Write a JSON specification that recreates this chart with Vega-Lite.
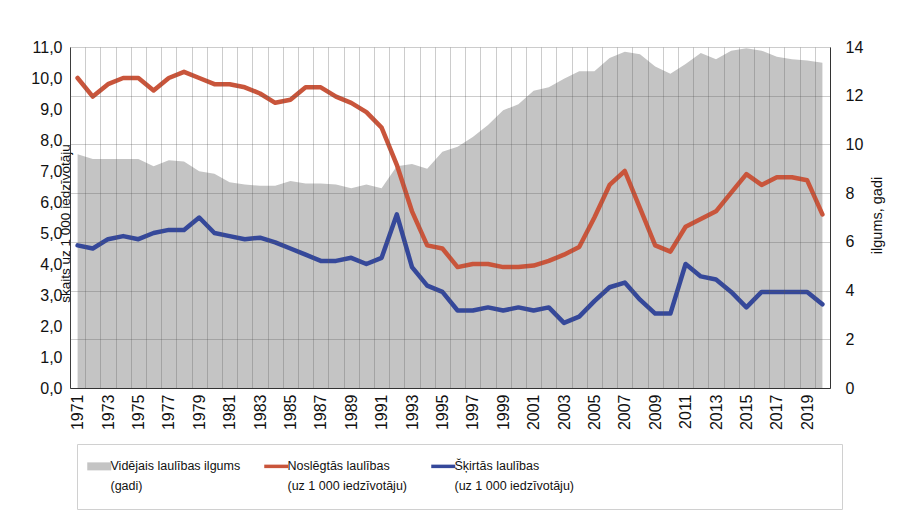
{
  "$schema": "https://vega.github.io/schema/vega-lite/v6.json",
  "width": 760,
  "height": 341,
  "autosize": "none",
  "padding": {"left": 70, "top": 47, "right": 70, "bottom": 123},
  "background": "white",
  "config": {
    "view": {"stroke": null},
    "font": "Liberation Sans",
    "axis": {"labelColor": "#111", "titleColor": "#111", "labelFont": "Liberation Sans", "titleFont": "Liberation Sans"},
    "legend": {
      "orient": "none",
      "legendX": 7,
      "legendY": 397,
      "direction": "horizontal",
      "columns": 3,
      "symbolType": "stroke",
      "symbolSize": 576,
      "symbolStrokeWidth": 4,
      "labelFont": "Liberation Sans",
      "labelFontSize": 12.5,
      "labelColor": "#111",
      "labelLimit": 300,
      "labelBaseline": "top",
      "labelOffset": 5,
      "columnPadding": 16,
      "padding": 16,
      "strokeColor": "#d0d0d0",
      "titleOrient": "right",
      "titlePadding": 252,
      "titleFontSize": 11
    }
  },
  "data": {
    "values": [
      {"gads": 1971, "ilgums": 9.6, "Noslēgtās laulības": 10.0, "Šķirtās laulības": 4.6},
      {"gads": 1972, "ilgums": 9.4, "Noslēgtās laulības": 9.4, "Šķirtās laulības": 4.5},
      {"gads": 1973, "ilgums": 9.4, "Noslēgtās laulības": 9.8, "Šķirtās laulības": 4.8},
      {"gads": 1974, "ilgums": 9.4, "Noslēgtās laulības": 10.0, "Šķirtās laulības": 4.9},
      {"gads": 1975, "ilgums": 9.4, "Noslēgtās laulības": 10.0, "Šķirtās laulības": 4.8},
      {"gads": 1976, "ilgums": 9.1, "Noslēgtās laulības": 9.6, "Šķirtās laulības": 5.0},
      {"gads": 1977, "ilgums": 9.35, "Noslēgtās laulības": 10.0, "Šķirtās laulības": 5.1},
      {"gads": 1978, "ilgums": 9.3, "Noslēgtās laulības": 10.2, "Šķirtās laulības": 5.1},
      {"gads": 1979, "ilgums": 8.9, "Noslēgtās laulības": 10.0, "Šķirtās laulības": 5.5},
      {"gads": 1980, "ilgums": 8.8, "Noslēgtās laulības": 9.8, "Šķirtās laulības": 5.0},
      {"gads": 1981, "ilgums": 8.45, "Noslēgtās laulības": 9.8, "Šķirtās laulības": 4.9},
      {"gads": 1982, "ilgums": 8.35, "Noslēgtās laulības": 9.7, "Šķirtās laulības": 4.8},
      {"gads": 1983, "ilgums": 8.3, "Noslēgtās laulības": 9.5, "Šķirtās laulības": 4.85},
      {"gads": 1984, "ilgums": 8.3, "Noslēgtās laulības": 9.2, "Šķirtās laulības": 4.7},
      {"gads": 1985, "ilgums": 8.5, "Noslēgtās laulības": 9.3, "Šķirtās laulības": 4.5},
      {"gads": 1986, "ilgums": 8.4, "Noslēgtās laulības": 9.7, "Šķirtās laulības": 4.3},
      {"gads": 1987, "ilgums": 8.4, "Noslēgtās laulības": 9.7, "Šķirtās laulības": 4.1},
      {"gads": 1988, "ilgums": 8.35, "Noslēgtās laulības": 9.4, "Šķirtās laulības": 4.1},
      {"gads": 1989, "ilgums": 8.2, "Noslēgtās laulības": 9.2, "Šķirtās laulības": 4.2},
      {"gads": 1990, "ilgums": 8.35, "Noslēgtās laulības": 8.9, "Šķirtās laulības": 4.0},
      {"gads": 1991, "ilgums": 8.2, "Noslēgtās laulības": 8.4, "Šķirtās laulības": 4.2},
      {"gads": 1992, "ilgums": 9.1, "Noslēgtās laulības": 7.2, "Šķirtās laulības": 5.6},
      {"gads": 1993, "ilgums": 9.2, "Noslēgtās laulības": 5.7, "Šķirtās laulības": 3.9},
      {"gads": 1994, "ilgums": 9.0, "Noslēgtās laulības": 4.6, "Šķirtās laulības": 3.3},
      {"gads": 1995, "ilgums": 9.7, "Noslēgtās laulības": 4.5, "Šķirtās laulības": 3.1},
      {"gads": 1996, "ilgums": 9.9, "Noslēgtās laulības": 3.9, "Šķirtās laulības": 2.5},
      {"gads": 1997, "ilgums": 10.3, "Noslēgtās laulības": 4.0, "Šķirtās laulības": 2.5},
      {"gads": 1998, "ilgums": 10.8, "Noslēgtās laulības": 4.0, "Šķirtās laulības": 2.6},
      {"gads": 1999, "ilgums": 11.4, "Noslēgtās laulības": 3.9, "Šķirtās laulības": 2.5},
      {"gads": 2000, "ilgums": 11.65, "Noslēgtās laulības": 3.9, "Šķirtās laulības": 2.6},
      {"gads": 2001, "ilgums": 12.2, "Noslēgtās laulības": 3.95, "Šķirtās laulības": 2.5},
      {"gads": 2002, "ilgums": 12.35, "Noslēgtās laulības": 4.1, "Šķirtās laulības": 2.6},
      {"gads": 2003, "ilgums": 12.7, "Noslēgtās laulības": 4.3, "Šķirtās laulības": 2.1},
      {"gads": 2004, "ilgums": 13.0, "Noslēgtās laulības": 4.55, "Šķirtās laulības": 2.3},
      {"gads": 2005, "ilgums": 13.0, "Noslēgtās laulības": 5.5, "Šķirtās laulības": 2.8},
      {"gads": 2006, "ilgums": 13.55, "Noslēgtās laulības": 6.55, "Šķirtās laulības": 3.25},
      {"gads": 2007, "ilgums": 13.8, "Noslēgtās laulības": 7.0, "Šķirtās laulības": 3.4},
      {"gads": 2008, "ilgums": 13.7, "Noslēgtās laulības": 5.8, "Šķirtās laulības": 2.85},
      {"gads": 2009, "ilgums": 13.2, "Noslēgtās laulības": 4.6, "Šķirtās laulības": 2.4},
      {"gads": 2010, "ilgums": 12.9, "Noslēgtās laulības": 4.4, "Šķirtās laulības": 2.4},
      {"gads": 2011, "ilgums": 13.3, "Noslēgtās laulības": 5.2, "Šķirtās laulības": 4.0},
      {"gads": 2012, "ilgums": 13.75, "Noslēgtās laulības": 5.45, "Šķirtās laulības": 3.6},
      {"gads": 2013, "ilgums": 13.5, "Noslēgtās laulības": 5.7, "Šķirtās laulības": 3.5},
      {"gads": 2014, "ilgums": 13.85, "Noslēgtās laulības": 6.3, "Šķirtās laulības": 3.1},
      {"gads": 2015, "ilgums": 13.95, "Noslēgtās laulības": 6.9, "Šķirtās laulības": 2.6},
      {"gads": 2016, "ilgums": 13.85, "Noslēgtās laulības": 6.55, "Šķirtās laulības": 3.1},
      {"gads": 2017, "ilgums": 13.6, "Noslēgtās laulības": 6.8, "Šķirtās laulības": 3.1},
      {"gads": 2018, "ilgums": 13.5, "Noslēgtās laulības": 6.8, "Šķirtās laulības": 3.1},
      {"gads": 2019, "ilgums": 13.45, "Noslēgtās laulības": 6.7, "Šķirtās laulības": 3.1},
      {"gads": 2020, "ilgums": 13.35, "Noslēgtās laulības": 5.6, "Šķirtās laulības": 2.7}
    ]
  },
  "encoding": {
    "x": {
      "field": "gads",
      "type": "ordinal",
      "bandPosition": 0.5,
      "scale": {"type": "band", "paddingInner": 0, "paddingOuter": 0},
      "axis": {
        "title": null,
        "tickBand": "extent",
        "grid": true,
        "gridColor": "#555",
        "gridOpacity": 0.3,
        "ticks": false,
        "labelAngle": 270,
        "labelFontSize": 16,
        "labelPadding": 6,
        "labelOverlap": false,
        "labelExpr": "datum.value % 2 == 1 ? datum.label : ''",
        "domainColor": "#333",
        "zindex": 1
      }
    }
  },
  "layer": [
    {
      "mark": {"type": "area", "opacity": 1},
      "encoding": {
        "y": {
          "field": "ilgums",
          "type": "quantitative",
          "scale": {"domain": [0, 14], "nice": false},
          "axis": {
            "orient": "right",
            "values": [0, 2, 4, 6, 8, 10, 12, 14],
            "grid": true,
            "gridColor": "#555",
            "gridOpacity": 0.3,
            "ticks": false,
            "labelPadding": 15,
            "labelFontSize": 16,
            "title": "ilgums, gadi",
            "titleFontSize": 14.5,
            "titleFontWeight": "normal",
            "titleAngle": 270,
            "titleX": 47,
            "titleY": 168,
            "titleAlign": "center",
            "titleBaseline": "middle",
            "domainColor": "#333",
            "zindex": 1
          }
        },
        "color": {
          "datum": "Vidējais laulības ilgums",
          "type": "nominal",
          "scale": {
            "domain": ["Vidējais laulības ilgums", "Noslēgtās laulības", "Šķirtās laulības"],
            "range": ["#c4c4c4", "#c9553b", "#35489a"]
          },
          "legend": {
            "title": " ",
            "labelExpr": "datum.label == 'Vidējais laulības ilgums' ? ['Vidējais laulības ilgums', ' (gadi)'] : [datum.label, ' (uz 1 000 iedzīvotāju)']",
            "encode": {
              "symbols": {"update": {"strokeWidth": {"signal": "datum.value === 'Vidējais laulības ilgums' ? 8 : 3.5"}}},
              "labels": {"update": {"lineHeight": {"value": 20}, "dy": {"value": -6}}}
            }
          }
        }
      }
    },
    {
      "transform": [{"fold": ["Noslēgtās laulības", "Šķirtās laulības"], "as": ["series", "value"]}],
      "mark": {"type": "line", "strokeWidth": 4.5, "strokeJoin": "round", "strokeCap": "round"},
      "encoding": {
        "y": {
          "field": "value",
          "type": "quantitative",
          "scale": {"domain": [0, 11], "nice": false},
          "axis": {
            "orient": "left",
            "values": [0, 1, 2, 3, 4, 5, 6, 7, 8, 9, 10, 11],
            "grid": false,
            "ticks": false,
            "labelPadding": 8,
            "labelFontSize": 16,
            "labelExpr": "replace(format(datum.value, '.1f'), '.', ',')",
            "title": "skaits uz 1 000 iedzīvotāju",
            "titleFontSize": 13.5,
            "titleFontWeight": "normal",
            "titleAngle": 270,
            "titleX": -5,
            "titleY": 176,
            "titleAlign": "center",
            "titleBaseline": "middle",
            "domainColor": "#333"
          }
        },
        "color": {
          "field": "series",
          "type": "nominal",
          "legend": {
            "title": " ",
            "labelExpr": "datum.label == 'Vidējais laulības ilgums' ? ['Vidējais laulības ilgums', ' (gadi)'] : [datum.label, ' (uz 1 000 iedzīvotāju)']",
            "encode": {
              "symbols": {"update": {"strokeWidth": {"signal": "datum.value === 'Vidējais laulības ilgums' ? 8 : 3.5"}}},
              "labels": {"update": {"lineHeight": {"value": 20}, "dy": {"value": -6}}}
            }
          }
        }
      }
    }
  ],
  "resolve": {"scale": {"y": "independent"}}
}
